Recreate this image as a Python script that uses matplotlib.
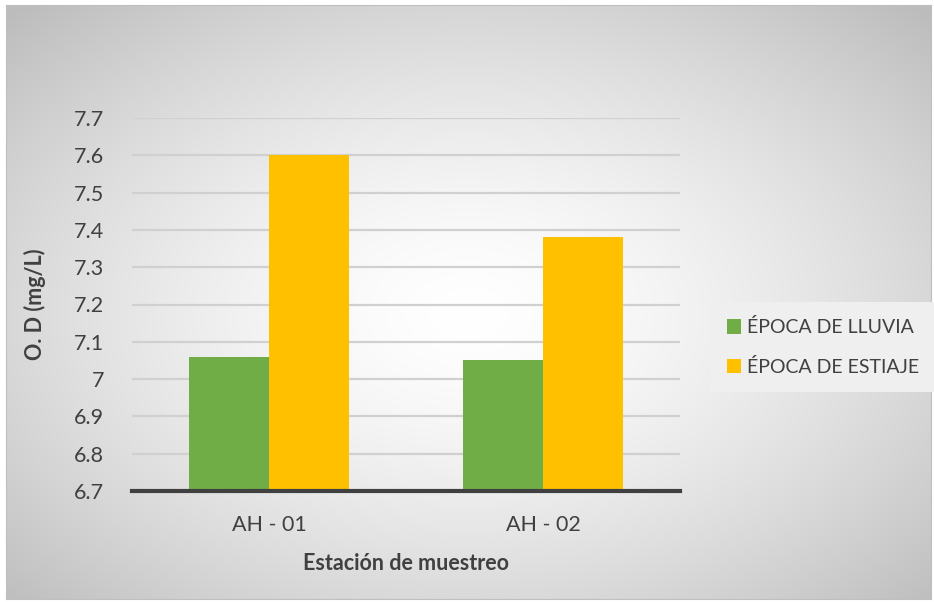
import matplotlib.pyplot as plt
import numpy as np

# Oxígeno disuelto por estación y época
estaciones = ["AH - 01", "AH - 02"]
lluvia = [7.06, 7.05]
estiaje = [7.60, 7.38]
series = ["ÉPOCA DE LLUVIA", "ÉPOCA DE ESTIAJE"]
yticks = [6.7, 6.8, 6.9, 7.0, 7.1, 7.2, 7.3, 7.4, 7.5, 7.6, 7.7]
ytick_labels = ["6.7", "6.8", "6.9", "7", "7.1", "7.2", "7.3", "7.4", "7.5", "7.6", "7.7"]

plt.rcParams['font.family'] = ['Lato', 'DejaVu Sans']
txt = "#404040"

W, H = 934, 603
fig = plt.figure(figsize=(W / 100, H / 100), dpi=100, facecolor="white")

# fondo con degradado radial
bg = fig.add_axes([6 / W, 4 / H, 925 / W, 594 / H])
yy, xx = np.mgrid[0:1:300j, 0:1:460j]
r = np.sqrt(((xx - 0.5) / 0.5) ** 2 + ((yy - 0.52) / 0.5) ** 2) / np.sqrt(2)
shade = 1 - 0.26 * np.clip(r, 0, 1) ** 1.5
bg.imshow(np.dstack([shade] * 3), extent=[0, 1, 0, 1], aspect="auto")
for s in bg.spines.values():
    s.set_color("#bfbfbf")
    s.set_linewidth(0.8)
bg.set_xticks([])
bg.set_yticks([])

ax = fig.add_axes([132 / W, 1 - 491 / H, 548 / W, 373 / H])
ax.patch.set_alpha(0)

x = np.arange(len(estaciones))
w = 0.292
ax.bar(x - w / 2, lluvia, w, color="#70AD47", label=series[0], zorder=3)
ax.bar(x + w / 2, estiaje, w, color="#FFC000", label=series[1], zorder=3)

ax.set_xlim(-0.5, 1.5)
ax.set_ylim(6.7, 7.7)
ax.set_yticks(yticks)
ax.set_yticklabels(ytick_labels, fontsize=15.5, color=txt)
ax.set_xticks(x)
ax.set_xticklabels(estaciones, fontsize=15.5, color=txt)
ax.tick_params(length=0, pad=20)
ax.tick_params(axis="x", pad=17)
ax.grid(axis="y", color="#d0d0d0", linewidth=1.6, zorder=0)

for side in ["top", "right", "left"]:
    ax.spines[side].set_visible(False)
ax.spines["bottom"].set_color("#404040")
ax.spines["bottom"].set_linewidth(3)
ax.spines["bottom"].set_zorder(4)

ax.set_ylabel("O. D (mg/L)", fontsize=15.5, fontweight="bold", color=txt, labelpad=20)
ax.set_xlabel("Estación de muestreo", fontsize=15.5, fontweight="bold", color=txt, labelpad=13)

leg = fig.legend(loc="center left", bbox_to_anchor=(710 / W, 1 - 347 / H), borderaxespad=0,
                 frameon=True, fontsize=14, handlelength=0.75, handleheight=0.75,
                 handletextpad=0.3, labelspacing=1.1, borderpad=0.85, fancybox=False,
                 labelcolor=txt)
leg.get_frame().set_facecolor("#efefef")
leg.get_frame().set_edgecolor("none")
leg.get_frame().set_alpha(1)

fig.savefig("out.png", dpi=100, facecolor="white")
